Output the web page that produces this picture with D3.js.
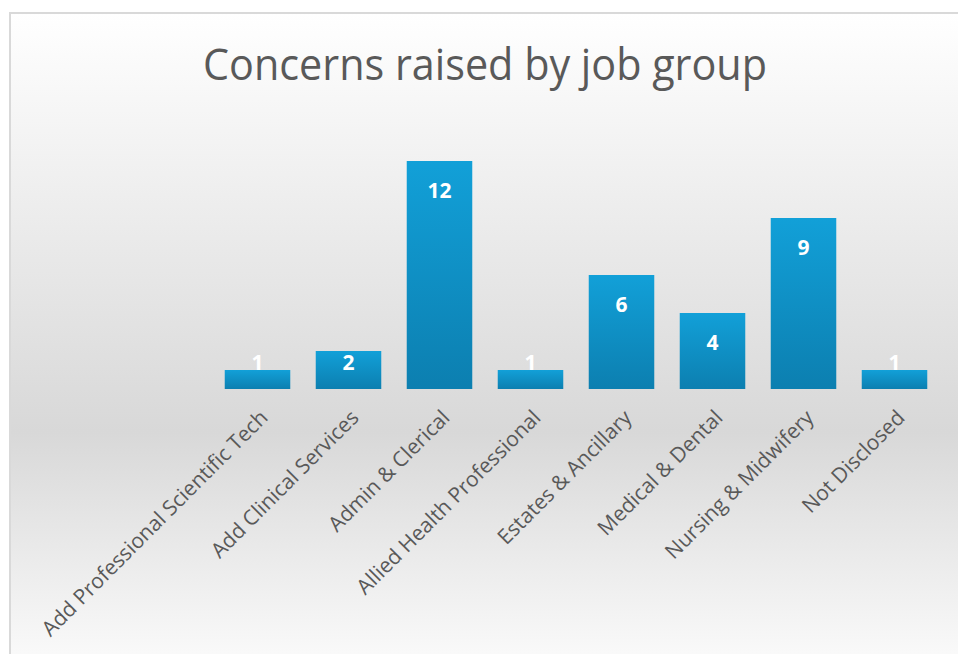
<!DOCTYPE html>
<html>
<head>
<meta charset="utf-8">
<script src="https://cdn.jsdelivr.net/npm/d3@7"></script>
<style>
  html, body { margin: 0; padding: 0; background: #fff; }
  svg { display: block; }
</style>
</head>
<body>
<div id="chart"></div>
<script>
var categories = [
  'Add Professional Scientific Tech',
  'Add Clinical Services',
  'Admin & Clerical',
  'Allied Health Professional',
  'Estates & Ancillary',
  'Medical & Dental',
  'Nursing & Midwifery',
  'Not Disclosed'
];
var counts = [1, 2, 12, 1, 6, 4, 9, 1];
var title = 'Concerns raised by job group';

var width = 958
  , height = 654
  , plot = { left: 212, right: 940, top: 161, bottom: 389 };

var svg = d3.select('#chart').append('svg')
  .attr('width', width)
  .attr('height', height);

var defs = svg.append('defs');

var bg = defs.append('linearGradient')
  .attr('id', 'bg')
  .attr('x1', 0).attr('y1', 0).attr('x2', 0).attr('y2', 1);
bg.append('stop').attr('offset', '0%').attr('stop-color', '#ffffff');
bg.append('stop').attr('offset', '64%').attr('stop-color', '#d8d8d8');
bg.append('stop').attr('offset', '100%').attr('stop-color', '#fbfbfb');

var barFill = defs.append('linearGradient')
  .attr('id', 'bar')
  .attr('x1', 0).attr('y1', 0).attr('x2', 0).attr('y2', 1);
barFill.append('stop').attr('offset', '0%').attr('stop-color', '#12a0d8');
barFill.append('stop').attr('offset', '100%').attr('stop-color', '#0c7fb0');

// chart area with its thin grey frame
svg.append('rect')
  .attr('x', 10).attr('y', 13)
  .attr('width', width + 10).attr('height', height)
  .attr('fill', 'url(#bg)')
  .attr('stroke', '#d9d9d9')
  .attr('stroke-width', 2);

svg.append('text')
  .attr('x', 485)
  .attr('y', 80)
  .attr('text-anchor', 'middle')
  .attr('font-family', 'Open Sans, sans-serif')
  .attr('font-size', 44)
  .attr('textLength', 564)
  .attr('lengthAdjust', 'spacingAndGlyphs')
  .attr('fill', '#595959')
  .text(title);

var x = d3.scaleBand()
  .domain(categories)
  .range([plot.left, plot.right])
  .paddingInner(0.28)
  .paddingOuter(0.14);

var y = d3.scaleLinear()
  .domain([0, 12])
  .range([plot.bottom, plot.top]);

svg.append('g').selectAll('rect')
  .data(categories)
  .join('rect')
  .attr('x', function(d) { return x(d); })
  .attr('y', function(d, i) { return y(counts[i]); })
  .attr('width', x.bandwidth())
  .attr('height', function(d, i) { return y(0) - y(counts[i]); })
  .attr('fill', 'url(#bar)');

svg.append('g').selectAll('text')
  .data(categories)
  .join('text')
  .attr('x', function(d) { return x(d) + x.bandwidth() / 2; })
  .attr('y', function(d, i) { return Math.min(y(counts[i]) + 37, y(0) - 19); })
  .attr('text-anchor', 'middle')
  .attr('font-family', 'Open Sans, sans-serif')
  .attr('font-weight', 'bold')
  .attr('font-size', 21)
  .attr('fill', '#ffffff')
  .text(function(d, i) { return counts[i]; });

// category labels, turned 45 degrees
svg.append('g').selectAll('text')
  .data(categories)
  .join('text')
  .attr('transform', function(d) {
    var cx = x(d) + x.bandwidth() / 2 + 11.5;
    return 'translate(' + cx + ',' + (plot.bottom + 30) + ') rotate(-45)';
  })
  .attr('text-anchor', 'end')
  .attr('font-family', 'Open Sans, sans-serif')
  .attr('font-size', 21)
  .attr('fill', '#595959')
  .text(function(d) { return d; });
</script>
</body>
</html>
